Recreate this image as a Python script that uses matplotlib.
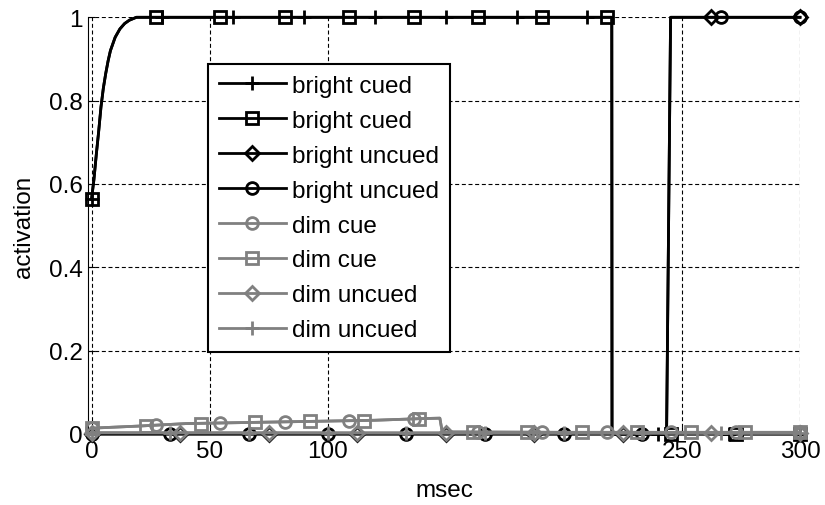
import matplotlib
matplotlib.use('Agg')
import matplotlib.pyplot as plt
from matplotlib.lines import Line2D

matplotlib.rcParams['font.family'] = ['Liberation Sans', 'DejaVu Sans']

BLACK = '#000000'
GRAY = '#808080'

# ── line data (msec, activation) ─────────────────────────────────────────────
bc_t = [0, 1, 2, 3, 4, 5, 6, 7, 8, 10, 12, 14, 16, 19, 220.3, 220.4, 300]
bc_y = [0.564, 0.61, 0.67, 0.725, 0.785, 0.83, 0.865, 0.895, 0.92, 0.952,
        0.972, 0.985, 0.993, 1.0, 1.0, 0.0, 0.0]

bu_t = [0, 243.5, 245.2, 300]
bu_y = [0.0, 0.0, 1.0, 1.0]

dc_t = [0, 20, 40, 60, 80, 100, 120, 140, 147.5, 148.5, 200, 250, 300]
dc_y = [0.014, 0.019, 0.025, 0.027, 0.029, 0.031, 0.033, 0.037, 0.038,
        0.005, 0.004, 0.004, 0.004]

du_t = [0, 300]
du_y = [0.003, 0.002]

# ── marker positions ─────────────────────────────────────────────────────────
bc_plus_t = [0, 30, 60, 90, 120, 150, 180, 210, 240, 270, 300]
bc_plus_y = [0.564, 1, 1, 1, 1, 1, 1, 1, 0, 0, 0]

bc_sq_t = [0, 27.3, 54.5, 81.8, 109.1, 136.4, 163.6, 190.9, 218.2, 245.5, 272.7, 300]
bc_sq_y = [0.564, 1, 1, 1, 1, 1, 1, 1, 1, 0, 0, 0]

bu_dia_t = [0, 37.5, 75, 112.5, 150, 187.5, 225, 262.5, 300]
bu_dia_y = [0, 0, 0, 0, 0, 0, 0, 1, 1]

bu_circ_t = [0, 33.3, 66.7, 100, 133.3, 166.7, 200, 233.3, 266.7, 300]
bu_circ_y = [0, 0, 0, 0, 0, 0, 0, 0, 1, 1]

dc_circ_t = [0, 27.3, 54.5, 81.8, 109.1, 136.4, 163.6, 190.9, 218.2, 245.5, 272.7, 300]
dc_circ_y = [0.014, 0.021, 0.026, 0.029, 0.032, 0.036, 0.004, 0.004, 0.004,
             0.004, 0.004, 0.004]

dc_sq_t = [0, 23.1, 46.2, 69.2, 92.3, 115.4, 138.5, 161.5, 184.6, 207.7,
           230.8, 253.8, 276.9, 300]
dc_sq_y = [0.014, 0.020, 0.025, 0.028, 0.030, 0.032, 0.036, 0.004, 0.004,
           0.004, 0.004, 0.004, 0.004, 0.004]

du_dia_t = [0, 37.5, 75, 112.5, 150, 187.5, 225, 262.5, 300]
du_dia_y = [0.003] * 9

du_plus_t = [0, 33.3, 66.7, 100, 133.3, 166.7, 200, 233.3, 266.7, 300]
du_plus_y = [0.003] * 10

labels = ['bright cued', 'bright cued', 'bright uncued', 'bright uncued',
          'dim cue', 'dim cue', 'dim uncued', 'dim uncued']

x_ticks = [0, 50, 100, 250, 300]
y_ticks = [0, 0.2, 0.4, 0.6, 0.8, 1]
y_ticklabels = ['0', '0.2', '0.4', '0.6', '0.8', '1']

series = [
    (bc_t, bc_y, bc_plus_t, bc_plus_y, BLACK, '+', 10),
    (bc_t, bc_y, bc_sq_t, bc_sq_y, BLACK, 's', 8.5),
    (bu_t, bu_y, bu_dia_t, bu_dia_y, BLACK, 'D', 7.5),
    (bu_t, bu_y, bu_circ_t, bu_circ_y, BLACK, 'o', 8.5),
    (dc_t, dc_y, dc_circ_t, dc_circ_y, GRAY, 'o', 8.5),
    (dc_t, dc_y, dc_sq_t, dc_sq_y, GRAY, 's', 8.5),
    (du_t, du_y, du_dia_t, du_dia_y, GRAY, 'D', 7.5),
    (du_t, du_y, du_plus_t, du_plus_y, GRAY, '+', 10),
]

LW = 2.0
FS = 17.5

fig = plt.figure(figsize=(8.25, 5.06), dpi=100)
ax = fig.add_axes([88 / 825, 71 / 506, 712 / 825, 416.7 / 506])

handles = []
for (lt, ly, mt, my, col, mk, ms), lab in zip(series, labels):
    ax.plot(lt, ly, color=col, lw=LW, clip_on=False, zorder=3)
    ax.plot(mt, my, ls='none', marker=mk, ms=ms, mew=LW, mfc='none',
            mec=col, clip_on=False, zorder=3)
    handles.append(Line2D([], [], color=col, lw=LW, marker=mk, ms=ms,
                          mew=LW, mfc='none', mec=col, label=lab))

ax.set_xlim(-1.5, 300)
ax.set_ylim(0, 1)
ax.set_xticks(x_ticks)
ax.set_yticks(y_ticks)
ax.set_yticklabels(y_ticklabels)
ax.tick_params(direction='in', length=5, width=0.8, labelsize=FS, pad=4)

ax.grid(True, color='black', lw=0.8, linestyle=(0, (3.6, 2.4)))
ax.set_axisbelow(True)

for s in ['top', 'right']:
    ax.spines[s].set_visible(False)
for s in ['left', 'bottom']:
    ax.spines[s].set_linewidth(0.8)

ax.set_xlabel('msec', fontsize=FS)
ax.set_ylabel('activation', fontsize=FS)
ax.xaxis.set_label_coords(0.5, -0.107)
ax.yaxis.set_label_coords(-0.074, 0.5)

leg = ax.legend(handles=handles, loc='upper left',
                bbox_to_anchor=((208 - 88) / 712, (435 - 65) / 416.7),
                borderaxespad=0, fontsize=FS, handlelength=2.75,
                handletextpad=0.25, labelspacing=0.53, borderpad=0.45,
                fancybox=False, framealpha=1, edgecolor='black')
leg.get_frame().set_linewidth(1.5)
leg.set_zorder(5)

plt.savefig('out.png', dpi=100)
